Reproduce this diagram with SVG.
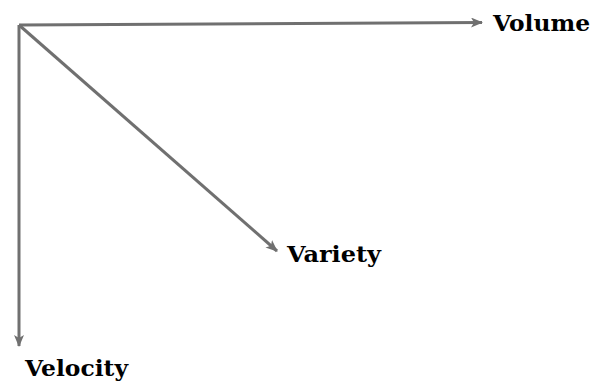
<svg xmlns="http://www.w3.org/2000/svg" width="600" height="381" viewBox="0 0 600 381">
<defs>
<marker id="ah" markerWidth="12" markerHeight="10" refX="11" refY="5" orient="auto" markerUnits="userSpaceOnUse">
<path d="M0,0 L12,5 L0,10 L3,5 Z" fill="#707070"/>
</marker>
</defs>
<style>
.c{stroke:#707070;stroke-width:3;fill:none}
.t{font-family:"DejaVu Serif","Liberation Serif",serif;font-weight:bold;font-size:22px;fill:#000}
</style>
<rect width="600" height="381" fill="#fff"/>
<g id="connectors">
<line class="c" x1="19" y1="25" x2="482" y2="22.5" marker-end="url(#ah)"/>
<line class="c" x1="19" y1="25" x2="277" y2="251" marker-end="url(#ah)"/>
<line class="c" x1="19" y1="25" x2="19" y2="346" marker-end="url(#ah)"/>
</g>
<g id="volume"><text class="t" x="493" y="31" textLength="97" lengthAdjust="spacingAndGlyphs">Volume</text></g>
<g id="variety"><text class="t" x="287" y="262" textLength="94" lengthAdjust="spacingAndGlyphs">Variety</text></g>
<g id="velocity"><text class="t" x="25" y="376" textLength="103" lengthAdjust="spacingAndGlyphs">Velocity</text></g>
</svg>
